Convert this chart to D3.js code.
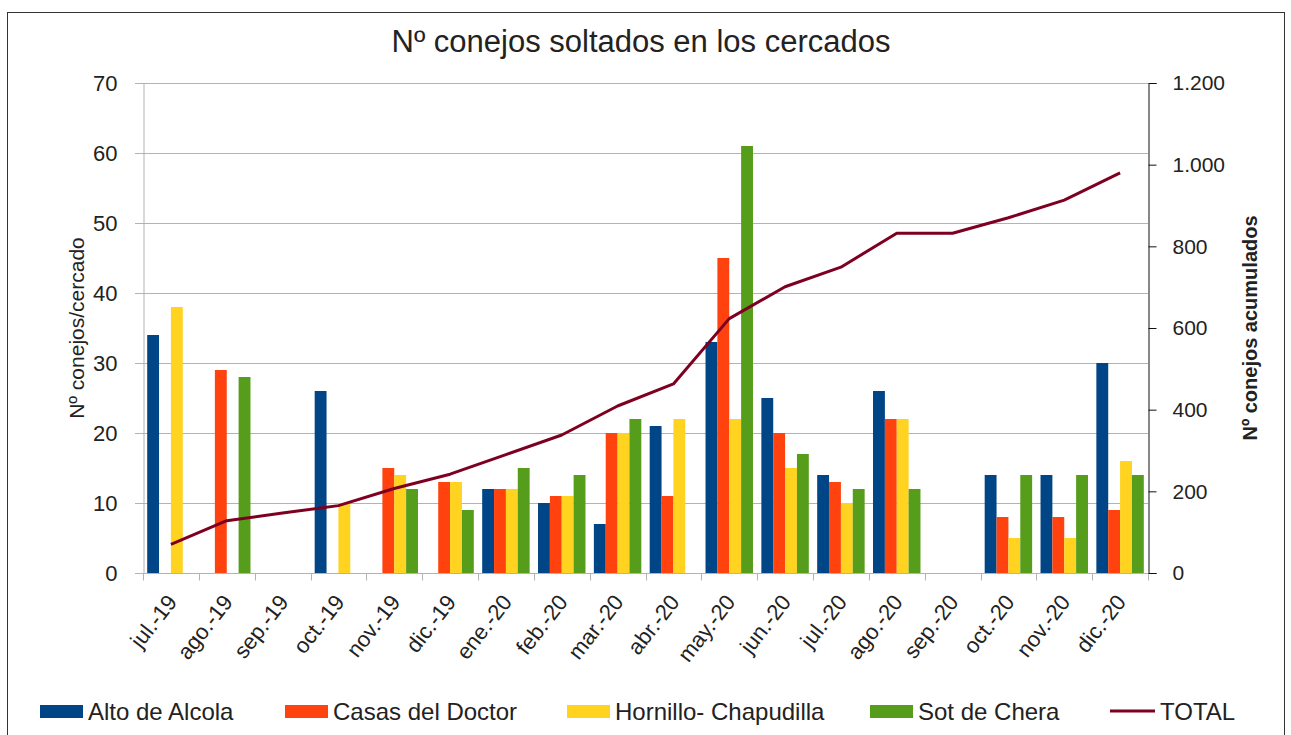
<!DOCTYPE html>
<html>
<head>
<meta charset="utf-8">
<script src="https://cdn.jsdelivr.net/npm/d3@7"></script>
<style>
  body { margin: 0; background: #fff; }
  text { font-family: "Liberation Sans", Arial, sans-serif; fill: #222; }
</style>
</head>
<body>
<script>
var months = ['jul.-19', 'ago.-19', 'sep.-19', 'oct.-19', 'nov.-19', 'dic.-19', 'ene.-20', 'feb.-20', 'mar.-20',
  'abr.-20', 'may.-20', 'jun.-20', 'jul.-20', 'ago.-20', 'sep.-20', 'oct.-20', 'nov.-20', 'dic.-20']

var seriesNames = ['Alto de Alcola', 'Casas del Doctor', 'Hornillo- Chapudilla', 'Sot de Chera']
var alto     = [34, 0, 0, 26, 0, 0, 12, 10, 7, 21, 33, 25, 14, 26, 0, 14, 14, 30]
var casas    = [0, 29, 0, 0, 15, 13, 12, 11, 20, 11, 45, 20, 13, 22, 0, 8, 8, 9]
var hornillo = [38, 0, 0, 10, 14, 13, 12, 11, 20, 22, 22, 15, 10, 22, 0, 5, 5, 16]
var sot      = [0, 28, 0, 0, 12, 9, 15, 14, 22, 0, 61, 17, 12, 12, 0, 14, 14, 14]
var total    = [70, 128, 147, 165, 207, 242, 290, 338, 409, 463, 623, 701, 749, 832, 832, 870, 913, 980]

var leftTicks = [0, 10, 20, 30, 40, 50, 60, 70]
var rightTicks = [0, 200, 400, 600, 800, 1000, 1200]

var colors = ['#004586', '#ff420e', '#ffd320', '#579d1c']
var lineColor = '#7e0021'

var W = 1291, H = 735
var m = {left: 143, right: 1148, top: 83, bottom: 573}

var svg = d3.select('body').append('svg').attr('width', W).attr('height', H)

// frame
svg.append('rect').attr('x', 7.5).attr('y', 12.5).attr('width', 1277).attr('height', 740)
  .attr('fill', 'none').attr('stroke', '#333').attr('stroke-width', 1)

var x0 = d3.scaleBand().domain(months).range([m.left, m.right]).paddingInner(0.15).paddingOuter(0.075)
var x1 = d3.scaleBand().domain(d3.range(4)).range([0, x0.bandwidth()])
var y = d3.scaleLinear().domain([0, 70]).range([m.bottom, m.top])
var y2 = d3.scaleLinear().domain([0, 1200]).range([m.bottom, m.top])

// grid
svg.append('g').selectAll('line').data(leftTicks).join('line')
  .attr('x1', m.left - 8).attr('x2', m.right)
  .attr('y1', d => Math.round(y(d)) + 0.5).attr('y2', d => Math.round(y(d)) + 0.5)
  .attr('stroke', '#b3b3b3').attr('stroke-width', 1)

// left axis
var yAxis = svg.append('g').attr('transform', 'translate(' + (m.left + 0.5) + ',0)')
  .call(d3.axisLeft(y).tickValues(leftTicks).tickSize(8).tickPadding(18))
yAxis.selectAll('path, line').attr('stroke', '#b3b3b3')
yAxis.selectAll('text').attr('font-size', 22).attr('font-family', '"Liberation Sans", Arial, sans-serif').attr('fill', '#222')

// x axis
var step = x0.step()
var xAxis = svg.append('g').attr('transform', 'translate(0,' + (m.bottom + 0.5) + ')')
xAxis.append('line').attr('x1', m.left).attr('x2', m.right).attr('stroke', '#b3b3b3')
xAxis.selectAll('line.tick').data(d3.range(months.length + 1)).join('line').attr('class', 'tick')
  .attr('x1', i => Math.round(m.left + i * step) + 0.5).attr('x2', i => Math.round(m.left + i * step) + 0.5)
  .attr('y1', 0).attr('y2', 7).attr('stroke', '#b3b3b3')
xAxis.selectAll('text').data(months).join('text')
  .attr('transform', d => 'translate(' + (x0(d) + x0.bandwidth() / 2 + 1) + ',24) rotate(-52)')
  .attr('text-anchor', 'end').attr('dy', '0.35em').attr('font-size', 22).text(d => d)

// bars
var series = [alto, casas, hornillo, sot]
series.forEach(function(vals, s){
  svg.append('g').selectAll('rect').data(vals).join('rect')
    .attr('x', (d, i) => x0(months[i]) + x1(s))
    .attr('width', x1.bandwidth())
    .attr('y', d => y(d))
    .attr('height', d => y(0) - y(d))
    .attr('fill', colors[s])
})

// total line
var line = d3.line().x((d, i) => x0(months[i]) + x0.bandwidth() / 2).y(d => y2(d))
svg.append('path').attr('d', line(total)).attr('fill', 'none')
  .attr('stroke', lineColor).attr('stroke-width', 3).attr('stroke-linejoin', 'round')

// right axis
var rAxis = svg.append('g').attr('transform', 'translate(' + (m.right + 0.5) + ',0)')
  .call(d3.axisRight(y2).tickValues(rightTicks).tickSize(8).tickPadding(16)
    .tickFormat(d => d3.format(',')(d).replace(',', '.')))
rAxis.selectAll('path, line').attr('stroke', '#111')
rAxis.selectAll('text').attr('font-size', 21).attr('font-family', '"Open Sans", sans-serif').attr('fill', '#222')

// titles
svg.append('text').attr('x', 641).attr('y', 52).attr('text-anchor', 'middle')
  .attr('font-size', 31).text('Nº conejos soltados en los cercados')
svg.append('text').attr('transform', 'translate(84,' + (m.top + m.bottom) / 2 + ') rotate(-90)')
  .attr('text-anchor', 'middle').attr('font-size', 21).text('Nº conejos/cercado')
svg.append('text').attr('transform', 'translate(1257,' + (m.top + m.bottom) / 2 + ') rotate(-90)')
  .attr('text-anchor', 'middle').attr('font-size', 20).attr('font-weight', 'bold')
  .attr('font-family', '"Open Sans", sans-serif').text('Nº conejos acumulados')

// legend
var legendX = [40, 285, 567, 870, 1110]
var leg = svg.append('g')
seriesNames.forEach(function(n, i){
  leg.append('rect').attr('x', legendX[i]).attr('y', 705).attr('width', 43).attr('height', 13).attr('fill', colors[i])
  leg.append('text').attr('x', legendX[i] + 48).attr('y', 720).attr('font-size', 24).text(n)
})
leg.append('line').attr('x1', legendX[4]).attr('x2', legendX[4] + 45).attr('y1', 711).attr('y2', 711)
  .attr('stroke', lineColor).attr('stroke-width', 3)
leg.append('text').attr('x', legendX[4] + 50).attr('y', 720).attr('font-size', 24).text('TOTAL')
</script>
</body>
</html>
